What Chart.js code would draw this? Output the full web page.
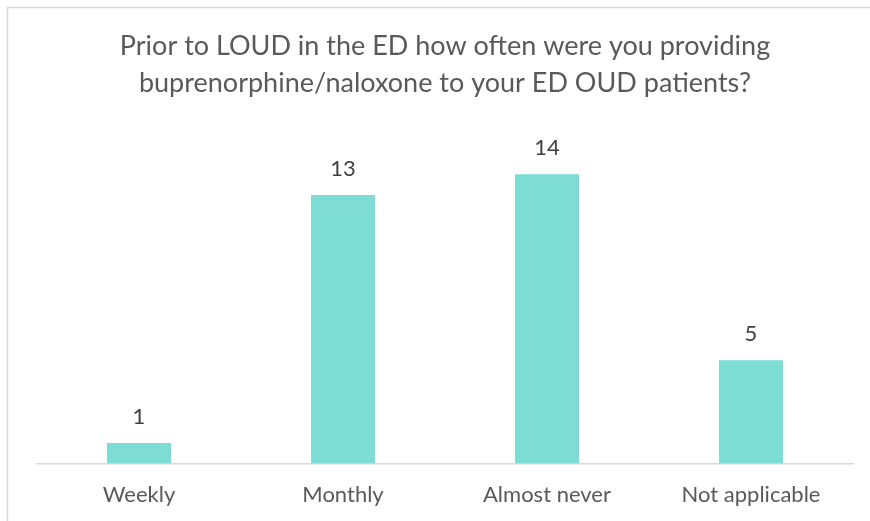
<!DOCTYPE html>
<html>
<head>
<meta charset="utf-8">
<script src="https://cdn.jsdelivr.net/npm/chart.js@4/dist/chart.umd.min.js"></script>
<style>
  html, body { margin: 0; padding: 0; background: #ffffff; }
  #wrap { width: 870px; height: 521px; position: relative; }
</style>
</head>
<body>
<div id="wrap"><canvas id="c" width="870" height="521"></canvas></div>
<script>
const categories = ["Weekly", "Monthly", "Almost never", "Not applicable"];
const counts = [1, 13, 14, 5];
const titleLines = ["Prior to LOUD in the ED how often were you providing", "buprenorphine/naloxone to your ED OUD patients?"];
const yMin = 0;
const yMax = 16;

const frame = {
  id: 'frame',
  beforeDraw(chart) {
    const ctx = chart.ctx;
    ctx.save();
    ctx.fillStyle = '#ffffff';
    ctx.fillRect(0, 0, chart.width, chart.height);
    ctx.strokeStyle = '#d9d9d9';
    ctx.lineWidth = 1.5;
    ctx.strokeRect(7.5, 7.5, 866, 540);
    ctx.restore();
  }
};

const valueLabels = {
  id: 'valueLabels',
  afterDatasetsDraw(chart) {
    const ctx = chart.ctx;
    const meta = chart.getDatasetMeta(0);
    ctx.save();
    ctx.fillStyle = '#404040';
    ctx.font = '22px Lato';
    ctx.textAlign = 'center';
    ctx.textBaseline = 'middle';
    meta.data.forEach((bar, i) => {
      ctx.fillText(String(chart.data.datasets[0].data[i]), bar.x, bar.y - 26);
    });
    ctx.restore();
  }
};

new Chart(document.getElementById('c'), {
  type: 'bar',
  data: {
    labels: categories,
    datasets: [{
      data: counts,
      backgroundColor: '#7DDDD4',
      borderWidth: 0,
      categoryPercentage: 1.0,
      barPercentage: 0.314
    }]
  },
  options: {
    responsive: false,
    animation: false,
    events: [],
    layout: { padding: { left: 37, right: 17, top: 0, bottom: -5 } },
    plugins: {
      legend: { display: false },
      tooltip: { enabled: false },
      title: {
        display: true,
        text: titleLines,
        color: '#595959',
        font: { family: 'Lato', size: 27, weight: 'normal', lineHeight: '37px' },
        padding: { top: 28, bottom: 31 }
      }
    },
    scales: {
      x: {
        grid: { display: false, drawTicks: false },
        border: { display: true, color: '#d9d9d9', width: 1.5 },
        ticks: { color: '#595959', font: { family: 'Lato', size: 22 }, padding: 18 }
      },
      y: {
        display: false,
        min: yMin,
        max: yMax
      }
    }
  },
  plugins: [frame, valueLabels]
});
</script>
</body>
</html>
